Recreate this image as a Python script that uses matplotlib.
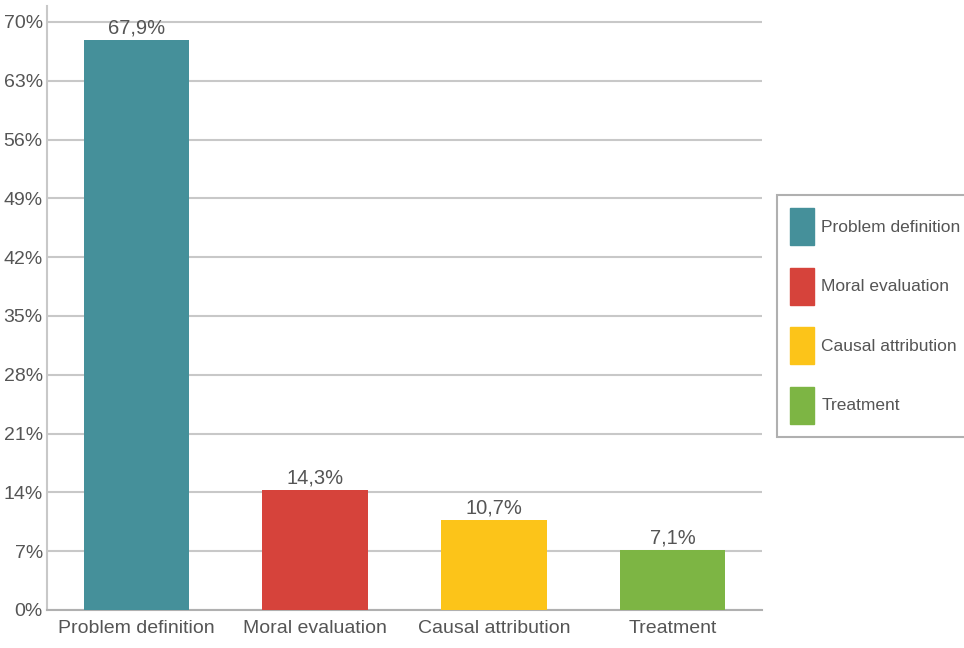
import matplotlib
matplotlib.use('Agg')
import matplotlib.pyplot as plt
from matplotlib.patches import Patch
from matplotlib.ticker import FuncFormatter

categories = ['Problem definition', 'Moral evaluation', 'Causal attribution', 'Treatment']
values = [67.9, 14.3, 10.7, 7.1]
labels = ['67,9%', '14,3%', '10,7%', '7,1%']
colors = ['#45909A', '#D6433B', '#FCC419', '#7DB544']
yticks = [0, 7, 14, 21, 28, 35, 42, 49, 56, 63, 70]

plt.rcParams['font.family'] = ['Liberation Sans', 'DejaVu Sans']
text_color = '#555555'

fig = plt.figure(figsize=(9.64, 6.48), dpi=100)
ax = fig.add_axes([47 / 964, 1 - 610 / 648, 715 / 964, 604 / 648])

x = list(range(len(categories)))
ax.bar(x, values, width=0.59, color=colors, zorder=3)
for xi, v, lab in zip(x, values, labels):
    ax.text(xi, v + 0.3, lab, ha='center', va='bottom', fontsize=14.5, color=text_color)

ax.set_xlim(-0.5, 3.5)
ax.set_ylim(0, 71.9)
ax.set_yticks(yticks)
ax.yaxis.set_major_formatter(FuncFormatter(lambda v, p: f'{int(v)}%'))
ax.set_xticks(x)
ax.set_xticklabels(categories)
ax.tick_params(axis='both', length=0, labelsize=14, labelcolor=text_color)
ax.tick_params(axis='y', pad=3)
ax.tick_params(axis='x', pad=7)

ax.grid(axis='y', color='#c8c8c8', linewidth=1.5, zorder=0)
for s in ['top', 'right']:
    ax.spines[s].set_visible(False)
ax.spines['left'].set_color('#c8c8c8')
ax.spines['left'].set_linewidth(1.5)
ax.spines['bottom'].set_color('#b0b0b0')
ax.spines['bottom'].set_linewidth(1.5)

handles = [Patch(facecolor=c, edgecolor=c) for c in colors]
leg = fig.legend(handles, categories, loc='upper left', bbox_to_anchor=(777 / 964, 1 - 195 / 648),
                 fontsize=12.5, handlelength=1.4, handleheight=2.9, labelspacing=1.3,
                 handletextpad=0.4, borderpad=0.75, borderaxespad=0, fancybox=False, framealpha=1)
leg.get_frame().set_edgecolor('#b0b0b0')
leg.get_frame().set_linewidth(1.5)
for t in leg.get_texts():
    t.set_color(text_color)

fig.savefig('out.png', dpi=100)
